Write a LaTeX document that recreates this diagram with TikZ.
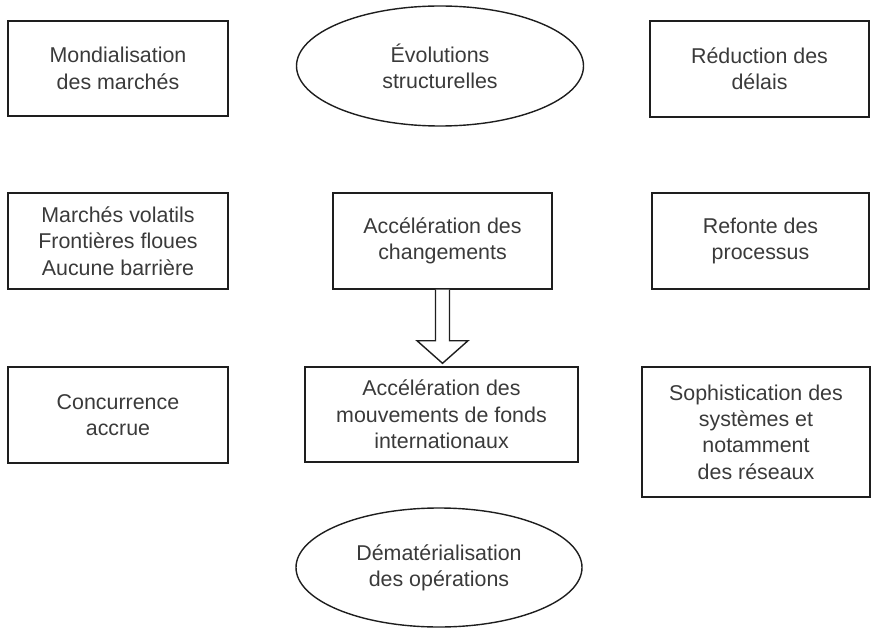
\documentclass[tikz,border=0pt]{standalone}
\usepackage{fontspec}
\setmainfont{Liberation Sans}
\usetikzlibrary{shapes.geometric,calc}
\definecolor{ink}{HTML}{3A3A3A}
\definecolor{edge}{HTML}{1E1E1E}
\begin{document}
\begin{tikzpicture}[x=1pt,y=-1pt,
  box/.style={draw=edge, line width=1.4pt, rectangle, inner sep=0pt, align=center,
    text=ink, font=\fontsize{21.4}{26.3}\selectfont},
  oval/.style={box, ellipse},
  blockarrow/.style={draw=edge, line width=1.4pt, fill=white, line join=miter}]
\useasboundingbox (0,0) rectangle (874,628);
% row 1
\node[box, minimum width=220pt, minimum height=95pt] (A) at (118,68.5) {Mondialisation\\des marchés};
\node[oval, minimum width=287pt, minimum height=120pt] (B) at (440,66) {Évolutions\\structurelles};
\node[box, minimum width=219pt, minimum height=96pt] (C) at (759.5,69) {Réduction des\\délais};
% row 2
\node[box, minimum width=220pt, minimum height=96pt] (D) at (118,241) {Marchés volatils\\Frontières floues\\Aucune barrière};
\node[box, minimum width=219pt, minimum height=96pt] (E) at (442.5,241) {Accélération des\\changements};
\node[box, minimum width=217pt, minimum height=96pt] (F) at (760.5,241) {Refonte des\\processus};
% row 3
\node[box, minimum width=220pt, minimum height=96pt] (G) at (118,415) {Concurrence\\accrue};
\node[box, minimum width=273pt, minimum height=95pt] (H) at (441.5,414.5) {Accélération des\\mouvements de fonds\\internationaux};
\node[box, minimum width=228pt, minimum height=130pt] (I) at (756,432) {Sophistication des\\systèmes et\\notamment\\des réseaux};
% bottom
\node[oval, minimum width=286pt, minimum height=119pt] (J) at (439,567.5) {Dématérialisation\\des opérations};
% block arrow
\coordinate (tip) at ($(E.south |- H.north)+(0,-3)$);
\draw[blockarrow] ($(E.south)+(-7,0)$) -- ($(E.south)+(-7,51)$) -- ($(E.south)+(-25.5,51)$)
  -- (tip) -- ($(E.south)+(25.5,51)$) -- ($(E.south)+(7,51)$) -- ($(E.south)+(7,0)$);
\end{tikzpicture}
\end{document}
